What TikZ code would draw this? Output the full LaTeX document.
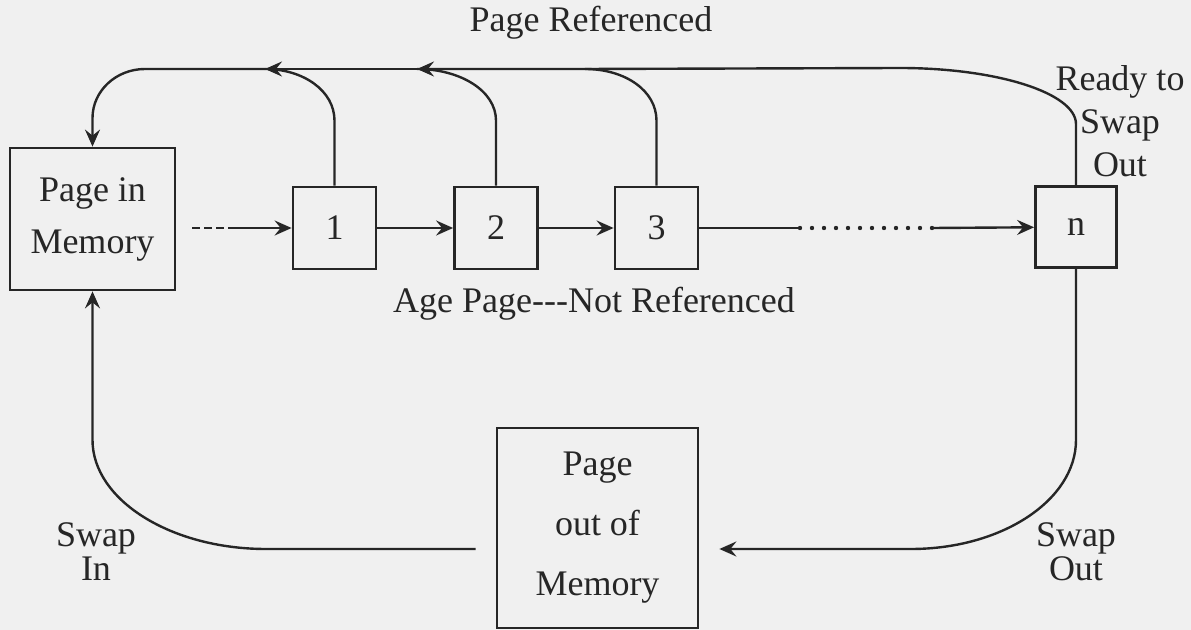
\documentclass[tikz,border=0pt]{standalone}
\usepackage{fontspec}
\setmainfont{Liberation Serif}
\usetikzlibrary{arrows.meta}
\definecolor{bgpaper}{RGB}{240,240,240}
\definecolor{ink}{RGB}{38,38,38}
\begin{document}
\begin{tikzpicture}[x=0.5pt,y=-0.5pt,
  color=ink, line width=1.2pt,
  arr/.style={-{Stealth[length=8.5pt,width=7.5pt,inset=3pt]}},
  box/.style={draw, line width=1.4pt, inner sep=0pt, align=center, font=\fontsize{18}{26}\selectfont},
  lbl/.style={inner sep=0pt, align=center, font=\fontsize{18}{22}\selectfont}]
\fill[bgpaper] (0,0) rectangle (1191,630);
\useasboundingbox (0,0) rectangle (1191,630);

% boxes
\node[box, minimum width=82.5pt, minimum height=71pt] (pim) at (92.5,219) {Page in\\Memory};
\node[box, minimum width=41.5pt, minimum height=41pt] (b1) at (334.5,228) {1};
\node[box, minimum width=41.5pt, minimum height=41pt] (b2) at (496,228) {2};
\node[box, minimum width=41.5pt, minimum height=41pt] (b3) at (656.5,228) {3};
\node[box, minimum width=40.5pt, minimum height=40.5pt] (bn) at (1076,227) {n};
\node[box, minimum width=100.5pt, minimum height=100pt, font=\fontsize{18}{30}\selectfont] (pom) at (597.5,528) {Page\\out of\\Memory};

% labels
\node[lbl] (lref) at (591,23) {Page Referenced};
\node[lbl] (lage) at (594,304) {Age Page-{}-{}-Not Referenced};
\node[lbl, font=\fontsize{18}{21.5}\selectfont] (lready) at (1120,121) {Ready to\\Swap\\Out};
\node[lbl, font=\fontsize{18}{17}\selectfont] (lin) at (96,552) {Swap\\In};
\node[lbl, font=\fontsize{18}{17}\selectfont] (lout) at (1076,552) {Swap\\Out};

% coordinates
\coordinate (d0) at (192,228);
\coordinate (d1) at (236,228);
\coordinate (e0) at (800,228);
\coordinate (e1) at (933,228);
\coordinate (j1) at (265,69);
\coordinate (j2) at (417,69);
\coordinate (j3) at (585,69);
\coordinate (jn) at (900,68);
\coordinate (bl) at (266,549);
\coordinate (br) at (911,549);

% aging chain
\draw[dash pattern=on 4pt off 2pt] (d0) -- (d1);
\draw[arr] (d1) -- (b1);
\draw[arr] (b1) -- (b2);
\draw[arr] (b2) -- (b3);
\draw (b3) -- (e0);
\draw[line width=2.2pt, line cap=round, dash pattern=on 0pt off 6pt] (e0) -- (e1);
\draw[arr] (e1) -- (bn);

% page referenced returns
\draw (bn.north) -- ++(0,-61) .. controls +(0,-31) and +(97,0) .. (jn) -- (j3);
\draw[arr] (b3.north) -- ++(0,-65) .. controls +(0,-30) and +(40,0) .. (j3) -- (j2);
\draw (b2.north) -- ++(0,-65) .. controls +(0,-30) and +(43,0) .. (j2);
\draw[arr] (j2) -- (j1);
\draw (b1.north) -- ++(0,-65) .. controls +(0,-30) and +(38,0) .. (j1);
\draw[arr] (j1) -- (145,69) .. controls (116,69) and (92.5,91) .. (92.5,118) -- (pim.north);

% swapping
\draw[arr, shorten >=10pt] (bn.south) -- (1076,440) .. controls (1076,500) and (1002,549) .. (br) -- (pom.east |- br);
\draw[arr, shorten <=10pt] (pom.west |- bl) -- (bl) .. controls (171,549) and (92.5,500) .. (92.5,440) -- (pim.south);
\end{tikzpicture}
\end{document}
